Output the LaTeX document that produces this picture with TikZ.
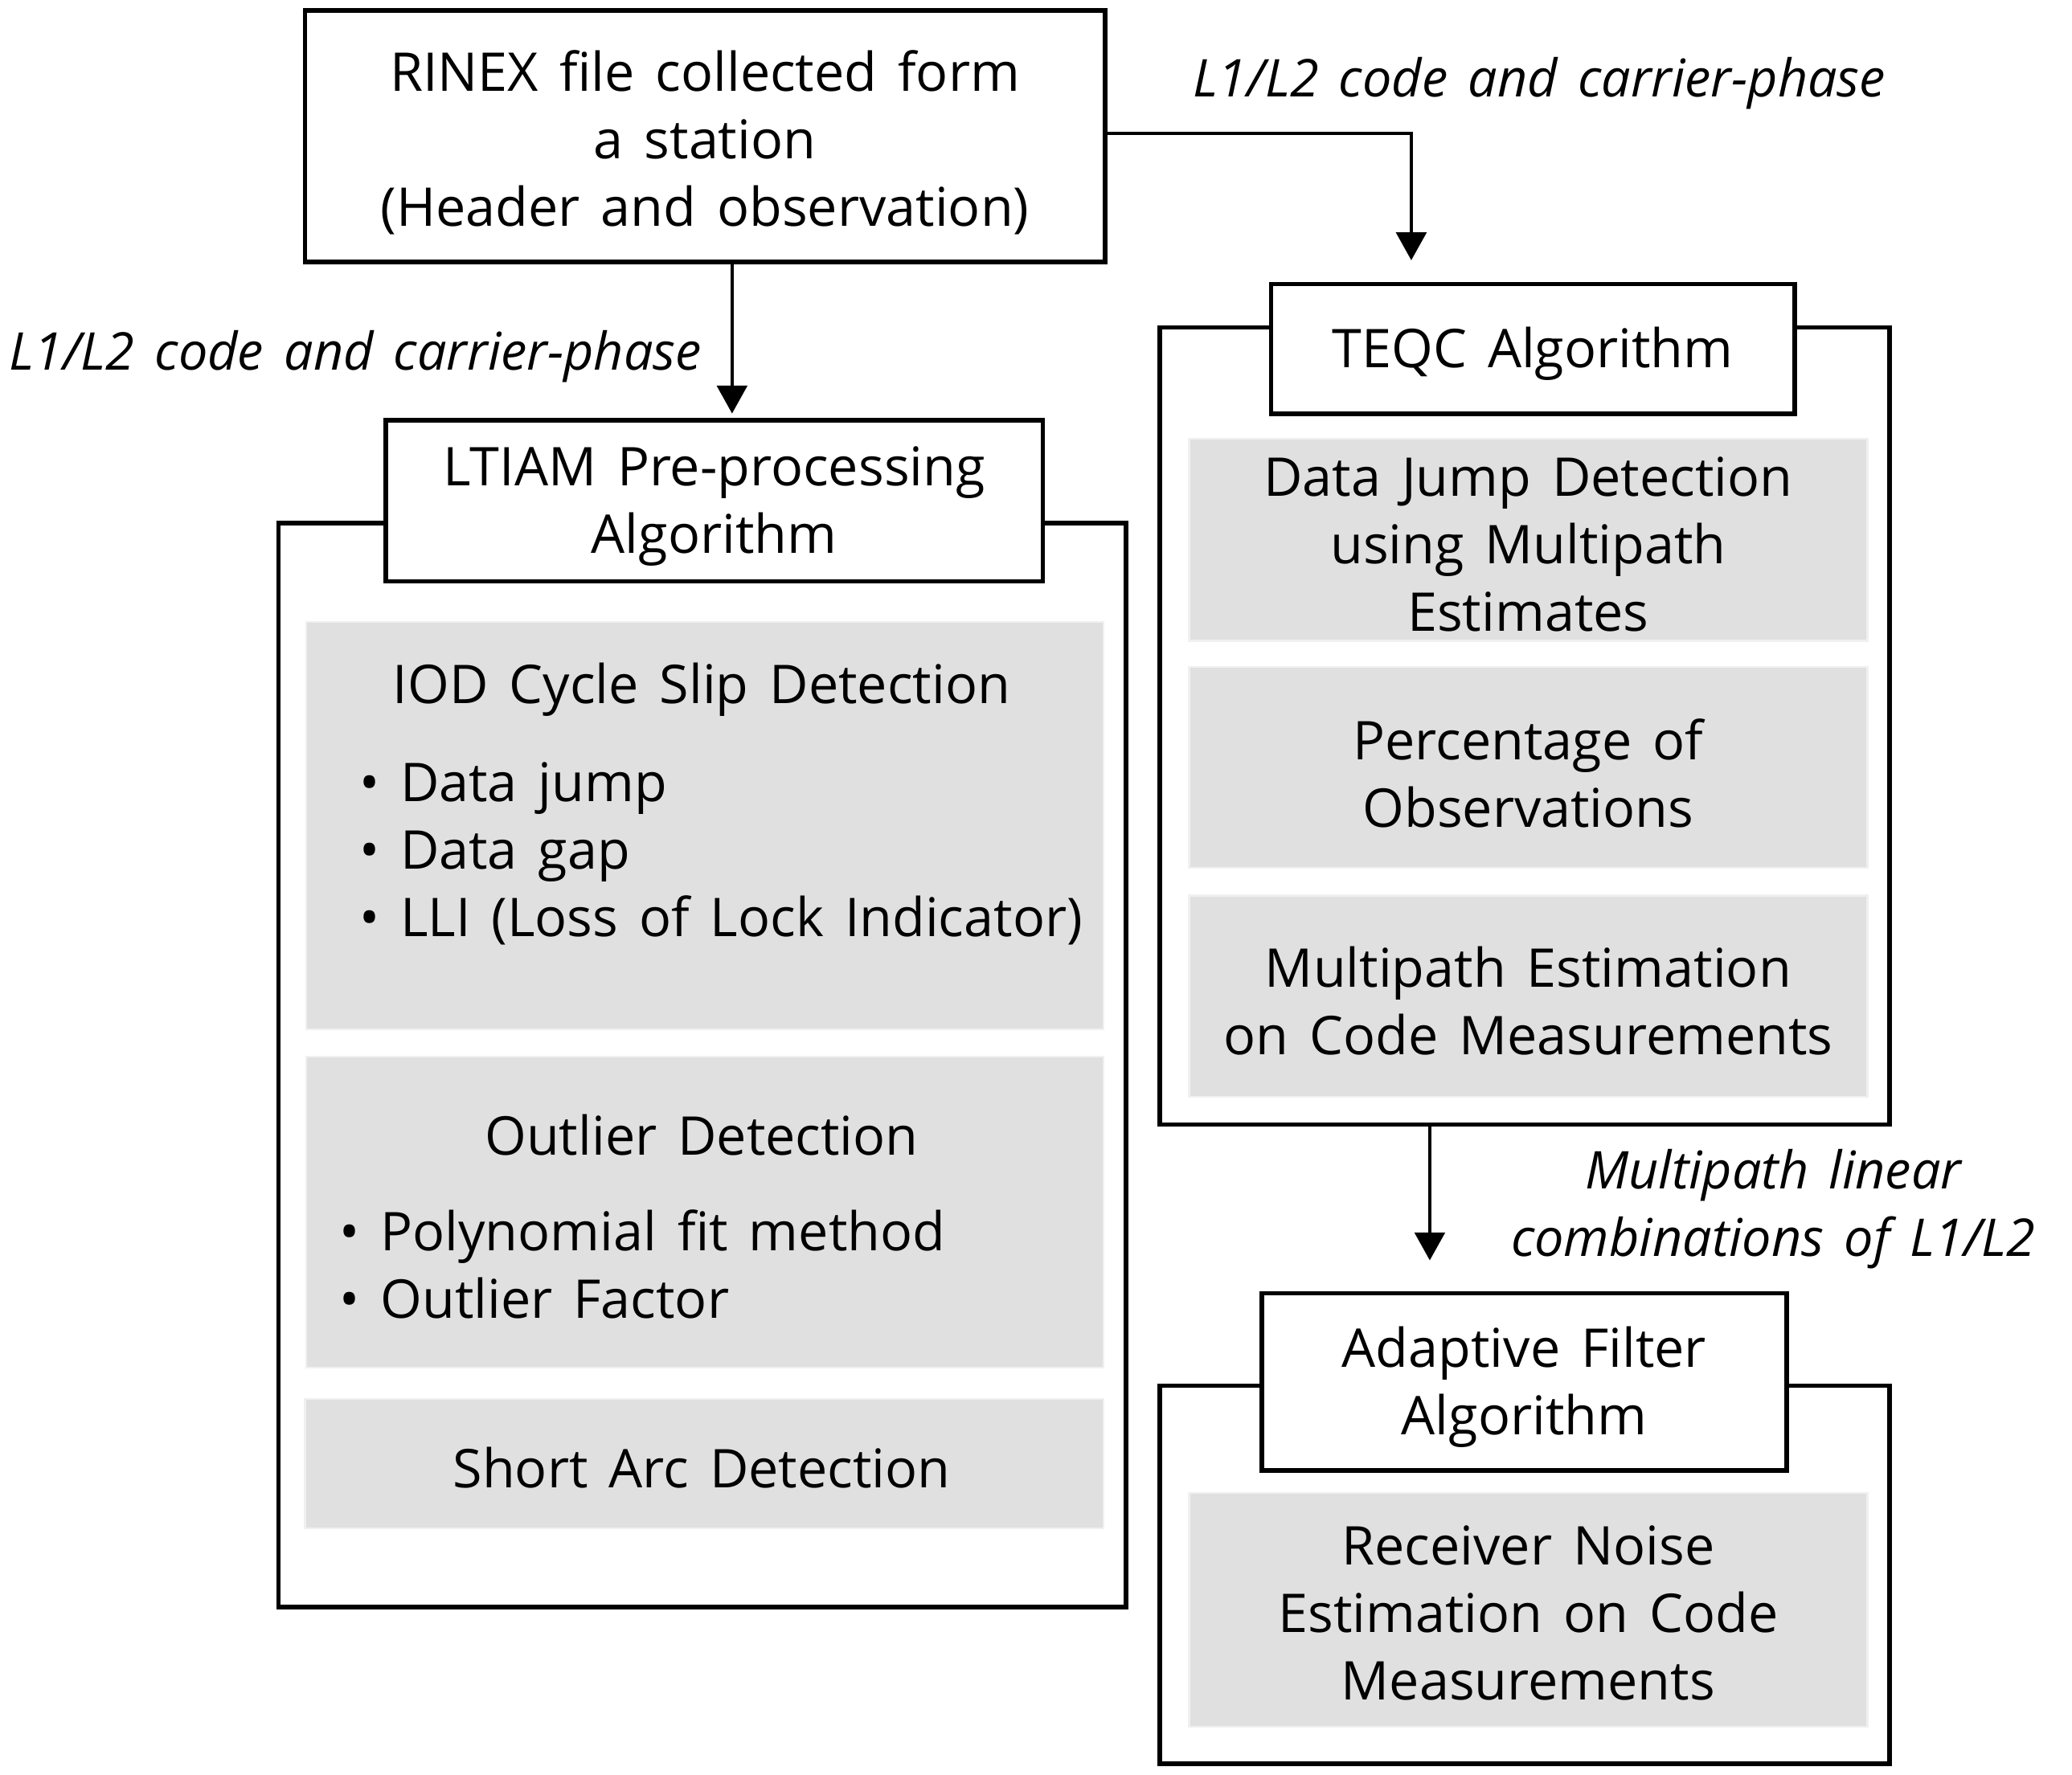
\documentclass[tikz,border=0pt]{standalone}
\usepackage{fontspec}
\setmainfont{Open Sans}[WordSpace=1.5]
\usetikzlibrary{arrows.meta}
\begin{document}
\begin{tikzpicture}[x=0.01cm,y=-0.01cm,
  every node/.style={inner sep=0pt, outer sep=0pt, font=\fontsize{11.5}{14.5}\selectfont},
  box/.style={draw=black, line width=1pt, fill=white},
  outerbox/.style={draw=black, line width=1pt},
  graybox/.style={draw=gray!12, line width=0.4pt, fill=gray!24},
  lbl/.style={font=\fontsize{11.2}{14.5}\selectfont\itshape, align=center},
  txt/.style={align=center},
  arr/.style={line width=0.65pt, -{Triangle[width=6.5pt,length=6pt]}}
]
\useasboundingbox (0,0) rectangle (1568,1343);

% ---------- top box ----------
\node[box, minimum width=6.05cm, minimum height=1.90cm] (rinex) at (533.5,103) {};
\node[txt] (rinext) at (533.5,108) {RINEX file collected form\\a station\\(Header and observation)};

% ---------- LTIAM ----------
\node[outerbox, minimum width=6.41cm, minimum height=8.20cm] (lout) at (531.5,806) {};
\node[box, minimum width=4.97cm, minimum height=1.22cm] (ltiam) at (540.5,379) {};
\node[txt] (ltiamt) at (540.5,383) {LTIAM Pre-processing\\Algorithm};

\node[graybox, minimum width=6.03cm, minimum height=3.08cm] (lg1) at (533.5,625) {};
\node[txt] (lg1t) at (531,522) {IOD Cycle Slip Detection};
\node[align=left, anchor=west] (lg1b) at (272,646) {• Data jump\\• Data gap\\• LLI (Loss of Lock Indicator)};

\node[graybox, minimum width=6.03cm, minimum height=2.35cm] (lg2) at (533.5,917.5) {};
\node[txt] (lg2t) at (531,859) {Outlier Detection};
\node[align=left, anchor=west] (lg2b) at (257,957) {• Polynomial fit method\\• Outlier Factor};

\node[graybox, minimum width=6.04cm, minimum height=0.98cm] (lg3) at (533,1108) {};
\node[txt] (lg3t) at (531,1111) {Short Arc Detection};

% ---------- TEQC ----------
\node[outerbox, minimum width=5.52cm, minimum height=6.03cm] (tout) at (1154,549.5) {};
\node[box, minimum width=3.96cm, minimum height=0.98cm] (teqc) at (1160,264) {};
\node[txt] (teqct) at (1160,268) {TEQC Algorithm};

\node[graybox, minimum width=5.13cm, minimum height=1.53cm] (tg1) at (1156.5,408.5) {};
\node[txt] (tg1t) at (1156.5,412) {Data Jump Detection\\using Multipath\\Estimates};
\node[graybox, minimum width=5.13cm, minimum height=1.52cm] (tg2) at (1156.5,581) {};
\node[txt] (tg2t) at (1156.5,585.5) {Percentage of\\Observations};
\node[graybox, minimum width=5.13cm, minimum height=1.52cm] (tg3) at (1156.5,754) {};
\node[txt] (tg3t) at (1156.5,757.5) {Multipath Estimation\\on Code Measurements};

% ---------- Adaptive ----------
\node[outerbox, minimum width=5.52cm, minimum height=2.86cm] (aout) at (1154,1192) {};
\node[box, minimum width=3.97cm, minimum height=1.34cm] (adapt) at (1153.5,1046) {};
\node[txt] (adaptt) at (1153.5,1050) {Adaptive Filter\\Algorithm};
\node[graybox, minimum width=5.13cm, minimum height=1.77cm] (ag) at (1156.5,1218.5) {};
\node[txt] (agt) at (1156.5,1221) {Receiver Noise\\Estimation on Code\\Measurements};

% ---------- labels ----------
\node[lbl] (lab1) at (1165,63) {L1/L2 code and carrier-phase};
\node[lbl] (lab2) at (269,270) {L1/L2 code and carrier-phase};
\node[lbl] (lab3) at (1342,915) {Multipath linear\\combinations of L1/L2};

% ---------- arrows ----------
\coordinate (a1end) at (1068,197);
\coordinate (a2end) at (554,313);
\coordinate (a3end) at (1082,954);
\draw[arr] (rinex.east |- 0,101) -| (a1end);
\draw[arr] (rinex.south -| a2end) -- (a2end);
\draw[arr] (tout.south -| a3end) -- (a3end);
\end{tikzpicture}
\end{document}
